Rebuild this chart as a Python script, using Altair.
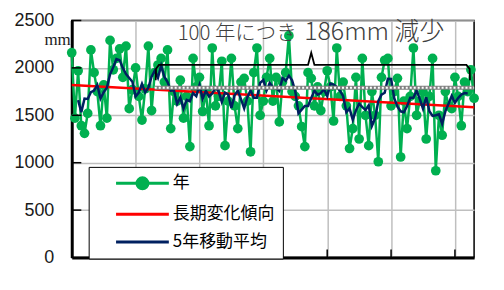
import altair as alt
import pandas as pd

# ---- data ----
years = list(range(1890, 2017))
annual_mm = [
    2160, 1470, 1970, 1390, 1310, 1520, 2190, 1950, 1750, 1390,
    1820, 1470, 2290, 1980, 2100, 2200, 1900, 2230, 1570, 1770,
    2000, 1700, 1450, 1780, 2230, 1550, 1950, 2030, 2100, 1850,
    2190, 1360, 1750, 1650, 1870, 1470, 1700, 1170, 2100, 1800,
    1900, 1540, 1750, 1390, 2210, 1600, 1700, 2070, 1180, 1650,
    2100, 1600, 1360, 1850, 1890, 1650, 1115, 1950, 2210, 1500,
    1650, 1900, 2100, 1650, 1900, 1430, 1850, 1950, 2340, 1750,
    1700, 1600, 1380, 1170, 1950, 1890, 1600, 1800, 1550, 1750,
    1970, 1800, 1440, 2210, 1700, 1850, 1600, 1150, 1360, 1900,
    1250, 2100, 1500, 1180, 1750, 1500, 1010, 1900, 2080, 2100,
    1600, 1750, 1890, 1060, 1650, 1360, 1700, 2210, 1500, 1650,
    1750, 1250, 1700, 2100, 915, 1500, 1290, 1750, 1600, 1570,
    1900, 1700, 1390, 1850, 1750, 1980, 1680,
]
trend_years = [1890, 2016]
trend_mm = [1820, 1586]

series_names = ["年", "長期変化傾向", "5年移動平均"]
series_colors = ["#00B050", "#FF0000", "#002060"]
series_symbols = [
    "M-5.3,0H5.3M-1.1,0A1.1,1.1,0,1,1,1.1,0A1.1,1.1,0,1,1,-1.1,0Z",
    "M-5.3,0H5.3",
    "M-5.3,0H5.3",
]

x_ticks = [1890, 1910, 1930, 1950, 1970, 1990, 2010]
y_ticks = [0, 500, 1000, 1500, 2000, 2500]
inner_y_ticks = [500, 1000, 1500, 2000, 2500]
inner_x_ticks = [1910, 1930, 1950, 1970, 1990, 2010]

ref_years = [1916, 2016]
ref_mm = [1790, 1790]

brace_years = [1916.3, 1916.4, 1917.3, 1964.0, 1965.0, 1966.0, 2013.6, 2014.6, 2014.7]
brace_mm = [1870, 1990, 2032, 2032, 2160, 2032, 2032, 1990, 1870]

note_small = "100 年につき"
note_big = "186mm 減少"
note_year = [1960.4, 1962.8]
note_mm = [2298, 2298]

# ---- tables ----
df = pd.DataFrame({"year": years, "mm": annual_mm})
trend_df = pd.DataFrame({"year": trend_years, "mm": trend_mm})
ref_df = pd.DataFrame({"year": ref_years, "mm": ref_mm})
brace_df = pd.DataFrame({"year": brace_years, "mm": brace_mm, "i": list(range(len(brace_years)))})
legend_df = pd.DataFrame({"series": series_names})
ytick_df = pd.DataFrame({"v": inner_y_ticks})
xtick_df = pd.DataFrame({"v": inner_x_ticks})

xs = alt.Scale(domain=[1890, 2016], nice=False, zero=False)
ys = alt.Scale(domain=[0, 2500], nice=False)

x_axis = alt.Axis(values=x_ticks, format="d", labelFontSize=18, labelFont="Liberation Sans",
                  labelColor="#1a1a1a", labelPadding=17, ticks=False, tickSize=0,
                  labelFlush=False, labelOverlap=False, domainColor="black", domainWidth=3,
                  gridColor="#BFBFBF", gridWidth=1.5, title=None)
y_axis = alt.Axis(values=y_ticks, format="d", labelFontSize=18, labelFont="Liberation Sans",
                  labelColor="#1a1a1a", labelPadding=18, ticks=False, tickSize=0,
                  labelOverlap=False, domainColor="black", domainWidth=3,
                  gridColor="#BFBFBF", gridWidth=1.5, title=None)

X = alt.X("year:Q", scale=xs, axis=x_axis, title=None)
Y = alt.Y("mm:Q", scale=ys, axis=y_axis, title=None)

green, red, navy = series_colors

annual_line = alt.Chart(df).mark_line(color=green, strokeWidth=2.5).encode(x=X, y=Y)
annual_pts = alt.Chart(df).mark_circle(color=green, size=95, opacity=1).encode(x=X, y=Y)
trend = alt.Chart(trend_df).mark_line(color=red, strokeWidth=2.5).encode(x=X, y=Y)
ma = (alt.Chart(df)
      .transform_window(ma="mean(mm)", n="count()", frame=[-2, 2], sort=[alt.SortField("year")])
      .transform_filter("datum.n == 5")
      .mark_line(color=navy, strokeWidth=2.5)
      .encode(x=X, y=alt.Y("ma:Q", scale=ys, axis=y_axis, title=None)))

ref_a = alt.Chart(ref_df).mark_line(color="#7f7f7f", strokeWidth=4).encode(x=X, y=Y)
ref_b = alt.Chart(ref_df).mark_line(color="white", strokeWidth=2, strokeDash=[2, 2]).encode(x=X, y=Y)

brace = alt.Chart(brace_df).mark_line(color="black", strokeWidth=1.8).encode(x=X, y=Y, order="i:Q")

note1 = alt.Chart(pd.DataFrame({"t": [note_small], "year": [note_year[0]], "mm": [note_mm[0]]})).mark_text(
    align="right", baseline="alphabetic", font="Noto Sans CJK JP", fontSize=20.5, fontWeight=300,
    color="#404040").encode(x=X, y=Y, text="t:N")
note2 = alt.Chart(pd.DataFrame({"t": [note_big], "year": [note_year[1]], "mm": [note_mm[1]]})).mark_text(
    align="left", baseline="alphabetic", font="Noto Sans CJK JP", fontSize=25, fontWeight=300,
    color="#404040").encode(x=X, y=Y, text="t:N")

mm_label = alt.Chart(pd.DataFrame({"t": ["mm"], "year": [1890], "mm": [2290]})).mark_text(
    align="right", baseline="middle", dx=-1, font="Liberation Serif", fontSize=17,
    color="#1a1a1a").encode(x=X, y=Y, text="t:N")
year_unit = alt.Chart(pd.DataFrame({"t": ["年"], "year": [2021.5], "mm": [-262]})).mark_text(
    align="center", baseline="middle", font="Noto Sans CJK JP", fontSize=16,
    color="#333333").encode(x=X, y=Y, text="t:N")

ytick_rules = alt.Chart(ytick_df).mark_rule(color="black", strokeWidth=1.5).encode(
    x=alt.datum(1890, scale=xs), x2=alt.datum(1893), y=alt.Y("v:Q", scale=ys))
xtick_rules = alt.Chart(xtick_df).mark_rule(color="black", strokeWidth=1.5).encode(
    x=alt.X("v:Q", scale=xs), y=alt.datum(0, scale=ys), y2=alt.datum(85))

leg = alt.Legend(title=None, orient="none", legendX=17, legendY=147, direction="vertical",
                 fillColor="white", strokeColor="black", padding=8,
                 symbolSize=100, symbolStrokeWidth=3, symbolOffset=37.5, symbolOpacity=1,
                 labelOffset=22, labelFontSize=17, labelFont="Noto Sans CJK JP",
                 labelColor="black", rowPadding=10,
                 labelExpr="datum.label + '\u3000\u3000  '")
legend_layer = alt.Chart(legend_df).mark_point(filled=True, opacity=0).encode(
    x=alt.value(-200), y=alt.value(-200),
    fill=alt.Fill("series:N", scale=alt.Scale(domain=series_names, range=series_colors), legend=leg),
    stroke=alt.Stroke("series:N", scale=alt.Scale(domain=series_names, range=series_colors), legend=leg),
    shape=alt.Shape("series:N", scale=alt.Scale(domain=series_names, range=series_symbols), legend=leg),
)

chart = alt.layer(
    annual_line, annual_pts, trend, ma, ref_a, ref_b, brace, note1, note2,
    mm_label, year_unit, ytick_rules, xtick_rules, legend_layer
).properties(
    width=404, height=238,
    autosize=alt.AutoSizeParams(type="none"),
    padding={"left": 64, "top": 12, "right": 22, "bottom": 12},
).configure_view(stroke="black", strokeWidth=1.5)

chart.save("out.html", embed_options={"renderer": "svg", "actions": False})
